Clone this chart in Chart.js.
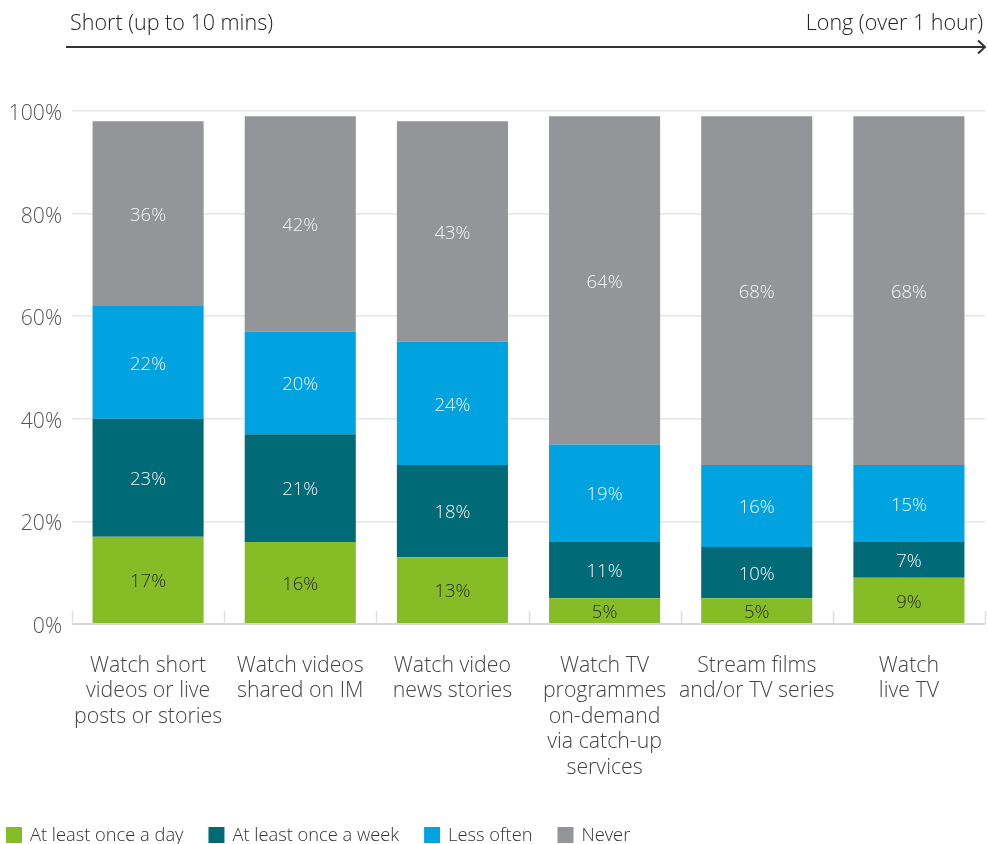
<!DOCTYPE html>
<html lang="en">
<head>
  <meta charset="UTF-8">
  <title>Video viewing frequency by length</title>
  <script src="https://cdn.jsdelivr.net/npm/chart.js"></script>
  <style>
    body { margin: 0; background: #ffffff; }
    canvas { display: block; }
  </style>
</head>
<body>
  <canvas id="viewingChart" width="988" height="844"></canvas>

  <script>
    // Chart data
    var categories = [
      ['Watch short', 'videos or live', 'posts or stories'],
      ['Watch videos', 'shared on IM'],
      ['Watch video', 'news stories'],
      ['Watch TV', 'programmes', 'on-demand', 'via catch-up', 'services'],
      ['Stream films', 'and/or TV series'],
      ['Watch', 'live TV']
    ];
    var dailyValues  = [17, 16, 13, 5, 5, 9];
    var weeklyValues = [23, 21, 18, 11, 10, 7];
    var lessValues   = [22, 20, 24, 19, 16, 15];
    var neverValues  = [36, 42, 43, 64, 68, 68];
    var seriesNames  = ['At least once a day', 'At least once a week', 'Less often', 'Never'];
    var yTicks       = [0, 20, 40, 60, 80, 100];
    var scaleNotes   = ['Short (up to 10 mins)', 'Long (over 1 hour)'];

    var colors     = ['#86bc25', '#006a76', '#00a3e0', '#939598'];
    var textColors = ['#2b2b2b', '#f4f4f4', '#f4f4f4', '#f4f4f4'];
    var fontFamily = "'Open Sans', 'Noto Sans', sans-serif";

    Chart.defaults.font.family = fontFamily;

    // "Short -> Long" arrow across the top
    var durationArrow = {
      id: 'durationArrow',
      afterDraw: function (chart) {
        var ctx = chart.ctx;
        ctx.save();
        ctx.fillStyle = '#222';
        ctx.font = '300 21.5px ' + fontFamily;
        ctx.textBaseline = 'alphabetic';
        ctx.textAlign = 'left';
        ctx.fillText(scaleNotes[0], 70, 30);
        ctx.textAlign = 'right';
        ctx.fillText(scaleNotes[1], 983, 30);

        ctx.strokeStyle = '#333';
        ctx.lineWidth = 2;
        ctx.beginPath();
        ctx.moveTo(66, 47);
        ctx.lineTo(985, 47);
        ctx.stroke();
        ctx.beginPath();
        ctx.moveTo(978, 40.5);
        ctx.lineTo(985, 47);
        ctx.lineTo(978, 53.5);
        ctx.stroke();
        ctx.restore();
      }
    };

    // Short separators between the categories, rising from the baseline
    var categoryTicks = {
      id: 'categoryTicks',
      beforeDatasetsDraw: function (chart) {
        var ctx = chart.ctx;
        var x = chart.scales.x;
        var base = chart.chartArea.bottom;
        ctx.save();
        ctx.strokeStyle = '#dedede';
        ctx.lineWidth = 1.5;
        for (var i = 0; i <= categories.length; i++) {
          var px = Math.round(x.getPixelForValue(i - 0.5)) + 0.5;
          ctx.beginPath();
          ctx.moveTo(px, base - 13);
          ctx.lineTo(px, base);
          ctx.stroke();
        }
        ctx.restore();
      }
    };

    // Percentage labels centred inside each segment
    var segmentLabels = {
      id: 'segmentLabels',
      afterDatasetsDraw: function (chart) {
        var ctx = chart.ctx;
        ctx.save();
        ctx.font = '300 18.5px ' + fontFamily;
        ctx.textAlign = 'center';
        ctx.textBaseline = 'middle';
        chart.data.datasets.forEach(function (ds, d) {
          var meta = chart.getDatasetMeta(d);
          ctx.fillStyle = textColors[d];
          meta.data.forEach(function (bar, i) {
            var y = (bar.y + bar.base) / 2;
            ctx.fillText(ds.data[i] + '%', bar.x, y + 2);
          });
        });
        ctx.restore();
      }
    };

    // Legend row along the bottom edge
    var bottomLegend = {
      id: 'bottomLegend',
      afterDraw: function (chart) {
        var ctx = chart.ctx;
        var x = 6;
        ctx.save();
        ctx.font = '300 18.3px ' + fontFamily;
        ctx.textAlign = 'left';
        ctx.textBaseline = 'alphabetic';
        seriesNames.forEach(function (name, i) {
          ctx.fillStyle = colors[i];
          ctx.fillRect(x, 827, 16, 16);
          ctx.fillStyle = '#333';
          ctx.fillText(name, x + 24, 841);
          x += 24 + ctx.measureText(name).width + 25;
        });
        ctx.restore();
      }
    };

    function makeSet(i, values) {
      return {
        label: seriesNames[i],
        data: values,
        backgroundColor: colors[i],
        borderWidth: 0,
        barPercentage: 0.73,
        categoryPercentage: 1
      };
    }

    var ctx = document.getElementById('viewingChart').getContext('2d');
    var viewingChart = new Chart(ctx, {
      type: 'bar',
      data: {
        labels: categories,
        datasets: [
          makeSet(0, dailyValues),
          makeSet(1, weeklyValues),
          makeSet(2, lessValues),
          makeSet(3, neverValues)
        ]
      },
      options: {
        responsive: false,
        animation: false,
        devicePixelRatio: 1,
        layout: { padding: { top: 111, right: 3, bottom: 0, left: 0 } },
        plugins: {
          legend: { display: false },
          tooltip: { enabled: false }
        },
        scales: {
          x: {
            stacked: true,
            grid: { display: false },
            border: { display: false },
            afterFit: function (scale) { scale.height = 220; },
            ticks: {
              padding: 21,
              color: '#444',
              maxRotation: 0,
              autoSkip: false,
              font: { size: 21.3, weight: '300', lineHeight: '25.5px' }
            }
          },
          y: {
            stacked: true,
            min: 0,
            max: 100,
            afterFit: function (scale) { scale.width = 72; },
            afterBuildTicks: function (scale) {
              scale.ticks = yTicks.map(function (v) { return { value: v }; });
            },
            border: { display: false },
            grid: {
              drawTicks: false,
              color: function (c) { return c.tick && c.tick.value === 0 ? '#d6d6d6' : '#e6e6e6'; },
              lineWidth: function (c) { return c.tick && c.tick.value === 0 ? 2 : 1.5; }
            },
            ticks: {
              padding: 10,
              labelOffset: 3,
              color: '#555',
              font: { size: 21.2, weight: '300' },
              callback: function (v) { return v + '%'; }
            }
          }
        }
      },
      plugins: [categoryTicks, segmentLabels, durationArrow, bottomLegend]
    });
  </script>
</body>
</html>
